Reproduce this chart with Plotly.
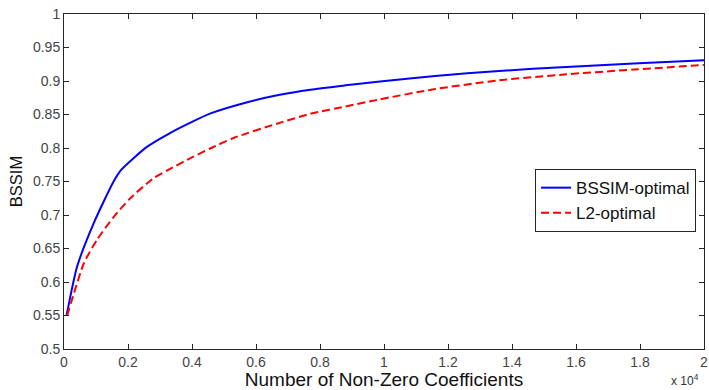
import plotly.graph_objects as go

# Number of non-zero coefficients
bssim_x = [80, 410, 930, 1550, 1800, 2600, 3300, 4000, 4600, 5700, 6700, 7700,
           8800, 9800, 11600, 13600, 15700, 17800, 20000]
bssim_y = [0.550, 0.623, 0.688, 0.750, 0.768, 0.802, 0.822, 0.839, 0.852, 0.868,
           0.879, 0.8870, 0.8935, 0.899, 0.9075, 0.915, 0.921, 0.926, 0.931]

l2_x = [100, 310, 620, 1030, 1550, 2070, 2800, 3400, 4000, 4600, 5300, 6700,
        7700, 8800, 9800, 11600, 13600, 15700, 17800, 20000]
l2_y = [0.550, 0.583, 0.628, 0.663, 0.697, 0.725, 0.755, 0.771, 0.786, 0.800,
        0.815, 0.837, 0.851, 0.862, 0.872, 0.888, 0.901, 0.910, 0.917, 0.924]

x_tickvals = [0, 2000, 4000, 6000, 8000, 10000, 12000, 14000, 16000, 18000, 20000]
x_ticktext = ["0", "0.2", "0.4", "0.6", "0.8", "1", "1.2", "1.4", "1.6", "1.8", "2"]
y_tickvals = [0.5, 0.55, 0.6, 0.65, 0.7, 0.75, 0.8, 0.85, 0.9, 0.95, 1.0]
y_ticktext = ["0.5", "0.55", "0.6", "0.65", "0.7", "0.75", "0.8", "0.85", "0.9", "0.95", "1"]

FONT = "Liberation Sans, Arial, Helvetica, sans-serif"

fig = go.Figure()
fig.add_trace(go.Scatter(x=bssim_x, y=bssim_y, mode="lines", name="BSSIM-optimal",
                         line=dict(color="#0000ff", width=2, shape="spline", smoothing=0.6)))
fig.add_trace(go.Scatter(x=l2_x, y=l2_y, mode="lines", name="L2-optimal",
                         line=dict(color="#ff0000", width=2, dash="8px,4px",
                                   shape="spline", smoothing=0.6)))

axis_common = dict(showline=True, linecolor="#262626", linewidth=1, mirror="ticks",
                   ticks="inside", ticklen=5, tickcolor="#262626", showgrid=False,
                   zeroline=False, ticklabeloverflow="allow",
                   tickfont=dict(family=FONT, size=14, color="#444444"))

fig.update_xaxes(range=[0, 20000], tickvals=x_tickvals, ticktext=x_ticktext,
                 title=dict(text="Number of Non-Zero Coefficients", standoff=2,
                            font=dict(family=FONT, size=19, color="#111111")),
                 **axis_common)
fig.update_yaxes(range=[0.5, 1.0], tickvals=y_tickvals, ticktext=y_ticktext,
                 title=dict(text="BSSIM", standoff=6,
                            font=dict(family=FONT, size=16.5, color="#111111")),
                 **axis_common)

fig.add_annotation(xref="paper", yref="paper", x=0.994, y=-0.092, xanchor="right",
                   yanchor="middle", showarrow=False, borderpad=0,
                   text="x 10<sup>4</sup>", font=dict(family=FONT, size=12, color="#333333"))

fig.update_layout(
    width=709, height=390,
    margin=dict(l=64, r=1, t=14, b=41),
    plot_bgcolor="white", paper_bgcolor="white",
    legend=dict(x=0.736, y=0.537, xanchor="left", yanchor="top",
                bgcolor="white", bordercolor="#262626", borderwidth=1,
                font=dict(family=FONT, size=17, color="#111111"),
                itemwidth=30, tracegroupgap=0),
)

fig.write_html("out.html")
